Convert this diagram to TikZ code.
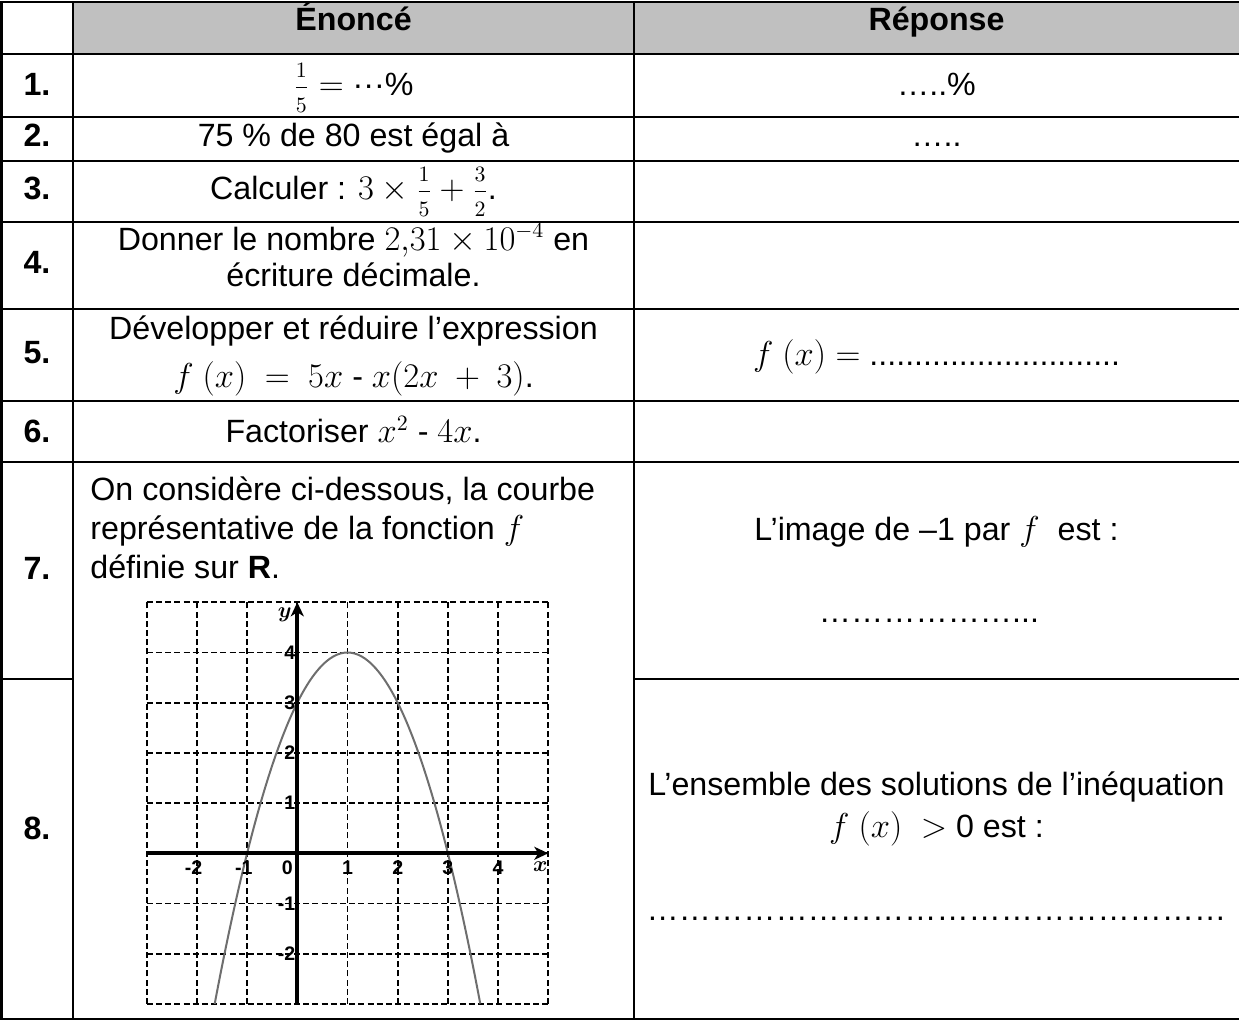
\documentclass[tikz,border=0pt]{standalone}
\usepackage{graphicx}
\usepackage{amsmath}
\usepackage[no-math]{fontspec}
\setmainfont{Liberation Sans}
\usetikzlibrary{arrows.meta}
\definecolor{hdrgray}{HTML}{C0C0C0}
\definecolor{curvegray}{HTML}{6E6E6E}
\newcommand{\cfr}[2]{\frac{\raisebox{2.6pt}{$\scriptstyle #1$}}{\raisebox{-2.4pt}{$\scriptstyle #2$}}}
\begin{document}
\begin{tikzpicture}[x=0.5pt,y=-0.5pt,
  txt/.style={font=\fontsize{16.1}{19}\selectfont, inner sep=0pt, anchor=base},
  bnum/.style={txt, font=\fontsize{16.1}{19}\selectfont\bfseries},
  leftline/.style={txt, anchor=base west},
  rule/.style={line width=1.3pt},
  gridl/.style={line width=0.85pt, dash pattern=on 3pt off 1.6pt},
  axisl/.style={line width=2pt, -{Stealth[length=7pt,width=6.5pt,inset=2pt]}},
  curvel/.style={line width=1pt, curvegray},
  ticklab/.style={font=\fontsize{9.8}{10}\selectfont\bfseries, inner sep=0pt},
  axlab/.style={font=\fontsize{11}{11}\selectfont\boldmath, inner sep=0pt}]
\useasboundingbox (0,0) rectangle (1239,1022);
% header fill
\fill[hdrgray] (73,2) rectangle (1245,54);
% table rules
\draw[rule] (1.5,2) rectangle (1245,1019);
\foreach \yy in {54,117,161,222,309,401,462}
  \draw[rule] (0,\yy) -- (1245,\yy);
\draw[rule] (0,679) -- (73,679);
\draw[rule] (634,679) -- (1245,679);
\draw[rule] (73,2) -- (73,1019);
\draw[rule] (634,2) -- (634,1019);
% header
\node[bnum] (h1) at (353.5,31) {Énoncé};
\node[bnum] (h2) at (936.5,31) {Réponse};
% row numbers
\node[bnum] (n1) at (37,96) {1.};
\node[bnum] (n2) at (37,147) {2.};
\node[bnum] (n3) at (37,200) {3.};
\node[bnum] (n4) at (37,274) {4.};
\node[bnum] (n5) at (37,364) {5.};
\node[bnum] (n6) at (37,443) {6.};
\node[bnum] (n7) at (37,579) {7.};
\node[bnum] (n8) at (37,839) {8.};
% enonce column
\node[txt] (e1) at (353.5,96) {$\cfr{1}{5}=$ ···\%};
\node[txt] (e2) at (353.5,147) {75 \% de 80 est égal à};
\node[txt] (e3) at (353.5,200) {Calculer : $3\times\cfr{1}{5}+\cfr{3}{2}$.};
\node[txt] (e4a) at (353.5,250) {Donner le nombre $2{,}31\times10^{-4}$ en};
\node[txt] (e4b) at (353.5,286) {écriture décimale.};
\node[txt] (e5a) at (353.5,340) {Développer et réduire l’expression};
\node[txt] (e5b) at (353.5,387) {$f\ (x)\ =\ 5x$ - $x(2x\ +\ 3)$.};
\node[txt] (e6) at (353.5,443) {Factoriser $x^2$ - $4x$.};
\node[leftline] (e7a) at (90,500) {On considère ci-dessous, la courbe};
\node[leftline] (e7b) at (90,539) {représentative de la fonction $f$};
\node[leftline] (e7c) at (90,578) {définie sur \textbf{R}.};
% reponse column
\node[txt] (r1) at (936.5,96) {…..\%};
\node[txt] (r2) at (936.5,147) {…..};
\node[txt] (r5) at (936.5,365) {$f\ (x) =$ ............................};
\node[txt] (r7a) at (936.5,540) {L’image de –1 par $f$\ \ est :};
\node[txt] (r7b) at (929,622) {………………...};
\node[txt] (r8a) at (936.5,795) {L’ensemble des solutions de l’inéquation};
\node[txt] (r8b) at (936.5,837) {$f\ (x)\ >\ $0 est :};
\node[txt] (r8c) at (936.5,920) {………………………………………………};
% graph
\begin{scope}[shift={(148.65pt,-426.65pt)}, x=25.1pt, y=25.1pt]
  \foreach \i in {-3,...,5} \draw[gridl] (\i,-3) -- (\i,5);
  \foreach \j in {-3,...,5} \draw[gridl] (-3,\j) -- (5,\j);
  \draw[curvel] plot[domain=-1.6458:3.6458, samples=100, smooth] (\x,{-(\x-1)*(\x-1)+4});
  \coordinate (xs) at (-3,0);
  \coordinate (xe) at (5,0);
  \coordinate (ys) at (0,-3);
  \coordinate (ye) at (0,5);
  \draw[axisl] (xs) -- (xe);
  \draw[axisl] (ys) -- (ye);
  \foreach \k/\nm in {4/ta,3/tb,2/tc,1/td}
    \node[ticklab, anchor=east] (\nm) at ([xshift=-0.8pt]0,\k) {\k};
  \node[ticklab, anchor=east] (te) at ([xshift=-0.8pt]0,-1) {-1};
  \node[ticklab, anchor=east] (tf) at ([xshift=-0.8pt]0,-2) {-2};
  \node[ticklab] (t0) at (-0.2,-0.29) {0};
  \node[ticklab] (tx1) at (1,-0.29) {1};
  \node[ticklab] (tx2) at (2,-0.29) {2};
  \node[ticklab] (tx3) at (3,-0.29) {3};
  \node[ticklab] (tx4) at (4,-0.29) {4};
  \node[ticklab] (txm1) at (-1,-0.29) {\llap{-}1};
  \node[ticklab] (txm2) at (-2,-0.29) {\llap{-}2};
  \node[axlab] (ylab) at (-0.25,4.76) {$y$};
  \node[axlab] (xlab) at (4.84,-0.27) {$x$};
\end{scope}
\end{tikzpicture}
\end{document}
